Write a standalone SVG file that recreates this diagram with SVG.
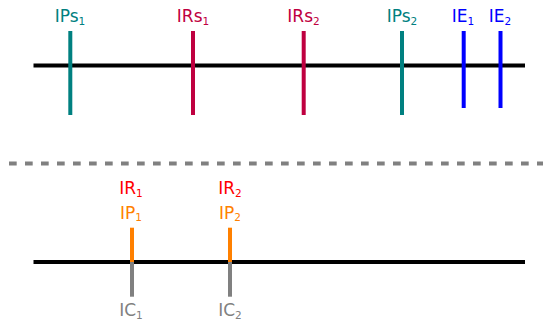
<svg xmlns="http://www.w3.org/2000/svg" width="543" height="321" viewBox="0 0 543 321">
<style>
text{font-family:"DejaVu Sans","Liberation Sans",sans-serif;font-size:17px;text-anchor:middle}
.sub{font-size:10.5px}
.axis{stroke:#000;stroke-width:4.2;fill:none}
.tick{stroke-width:4;fill:none}
.teal{stroke:#008080}.tealt{fill:#008080}
.pur{stroke:#BF0040}.purt{fill:#BF0040}
.blu{stroke:#0000FF}.blut{fill:#0000FF}
.ora{stroke:#FF8000}.orat{fill:#FF8000}
.gry{stroke:#808080}.gryt{fill:#808080}
.redt{fill:#FF0000}
</style>
<rect width="543" height="321" fill="#fff"/>
<g id="connectors">
<line class="axis" x1="33.5" y1="65.5" x2="525" y2="65.5"/>
<line x1="9" y1="163.5" x2="543" y2="163.5" stroke="#808080" stroke-width="4" stroke-dasharray="7.7 8.3"/>
<line class="axis" x1="33.5" y1="262" x2="525" y2="262"/>
</g>
<g id="IPs1"><line class="tick teal" x1="70.3" y1="31" x2="70.3" y2="115"/><text class="tealt" x="70" y="22.3">IPs<tspan class="sub" dy="2.5">1</tspan></text></g>
<g id="IRs1"><line class="tick pur" x1="193" y1="31" x2="193" y2="115"/><text class="purt" x="193" y="22.3">IRs<tspan class="sub" dy="2.5">1</tspan></text></g>
<g id="IRs2"><line class="tick pur" x1="303.7" y1="31" x2="303.7" y2="115"/><text class="purt" x="303.5" y="22.3">IRs<tspan class="sub" dy="2.5">2</tspan></text></g>
<g id="IPs2"><line class="tick teal" x1="402" y1="31" x2="402" y2="115"/><text class="tealt" x="402" y="22.3">IPs<tspan class="sub" dy="2.5">2</tspan></text></g>
<g id="IE1"><line class="tick blu" x1="463.7" y1="31" x2="463.7" y2="108"/><text class="blut" x="463" y="22.3">IE<tspan class="sub" dy="2.5">1</tspan></text></g>
<g id="IE2"><line class="tick blu" x1="500.5" y1="31" x2="500.5" y2="108"/><text class="blut" x="500" y="22.3">IE<tspan class="sub" dy="2.5">2</tspan></text></g>
<g id="I1">
<line class="tick ora" x1="132" y1="227.7" x2="132" y2="262"/>
<line class="tick gry" x1="132" y1="262" x2="132" y2="296.7"/>
<text class="redt" x="131" y="194.3">IR<tspan class="sub" dy="2.5">1</tspan></text>
<text class="orat" x="131" y="218.5">IP<tspan class="sub" dy="2.5">1</tspan></text>
<text class="gryt" x="131" y="316">IC<tspan class="sub" dy="2.5">1</tspan></text>
</g>
<g id="I2">
<line class="tick ora" x1="230" y1="227.7" x2="230" y2="262"/>
<line class="tick gry" x1="230" y1="262" x2="230" y2="296.7"/>
<text class="redt" x="230" y="194.3">IR<tspan class="sub" dy="2.5">2</tspan></text>
<text class="orat" x="230" y="218.5">IP<tspan class="sub" dy="2.5">2</tspan></text>
<text class="gryt" x="230" y="316">IC<tspan class="sub" dy="2.5">2</tspan></text>
</g>
</svg>
